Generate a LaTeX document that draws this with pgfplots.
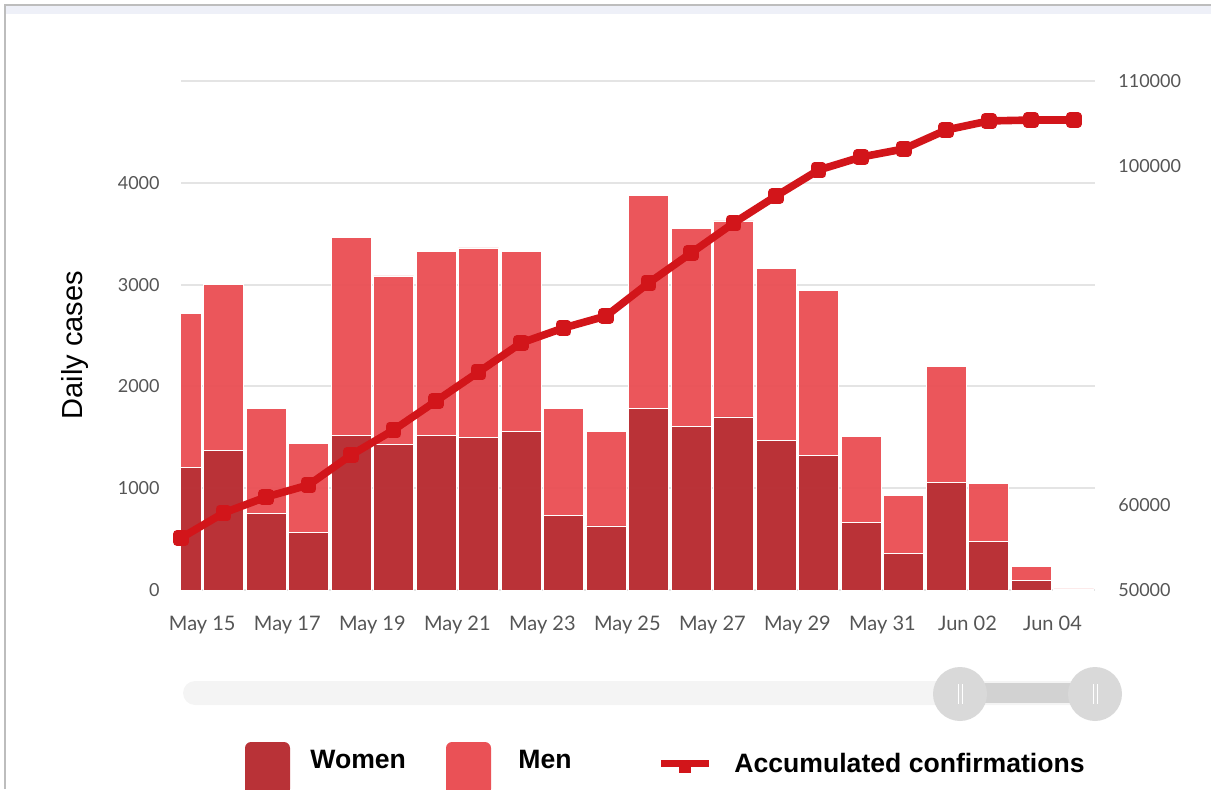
\documentclass[border=0pt]{standalone}
\usepackage{pgfplots}
\pgfplotsset{compat=1.18}
\usepackage{fontspec}
\setmainfont{Liberation Sans}
\newfontfamily\tickfont{Lato}
\definecolor{women}{HTML}{B93237}
\definecolor{men}{HTML}{EA5156}
\definecolor{acc}{HTML}{D2151A}
\definecolor{gridgray}{HTML}{E4E4E4}
\definecolor{ticktext}{HTML}{555555}
\definecolor{framegray}{HTML}{BDBDBD}
\definecolor{bandgray}{HTML}{EEF0F8}
\definecolor{trackgray}{HTML}{F4F4F4}
\definecolor{handlegray}{HTML}{D9D9D9}
\definecolor{selgray}{HTML}{D2D2D2}

\pgfplotstableread{
x total women
0 2720 1200
1 3000 1370
2 1785 750
3 1440 565
4 3460 1520
5 3085 1430
6 3330 1520
7 3360 1500
8 3330 1560
9 1785 730
10 1560 630
11 3880 1785
12 3550 1610
13 3625 1700
14 3155 1470
15 2940 1320
16 1510 665
17 925 360
18 2200 1055
19 1045 475
20 230 90
21 10 2
}\bars

\pgfplotstableread{
x acc
0 56130
1 59080
2 60960
3 62380
4 65910
5 68860
6 72280
7 75700
8 79120
9 80890
10 82300
11 86190
12 89730
13 93260
14 96450
15 99510
16 101040
17 101990
18 104230
19 105290
20 105400
21 105400
}\accum

\begin{document}
\begin{tikzpicture}
\path[use as bounding box] (0pt,0pt) rectangle (605.5pt,394.5pt);
% frame
\fill[bandgray] (2.5pt,387.5pt) rectangle (605.5pt,391.5pt);
\draw[framegray, line width=1pt] (2.5pt,0pt) -- (2.5pt,392pt) -- (605.5pt,392pt);

\begin{axis}[
  at={(90.5pt,99.5pt)}, anchor=south west,
  width=457pt, height=254.5pt, scale only axis,
  xmin=0, xmax=21.5, ymin=0, ymax=5000,
  axis line style={draw=none}, major tick length=0pt,
  xtick={0.5,2.5,4.5,6.5,8.5,10.5,12.5,14.5,16.5,18.5,20.5},
  xticklabels={May 15,May 17,May 19,May 21,May 23,May 25,May 27,May 29,May 31,Jun 02,Jun 04},
  ytick={0,1000,2000,3000,4000,5000},
  yticklabels={0,1000,2000,3000,4000,{}},
  ymajorgrids, grid style={draw=gridgray, line width=1pt},
  tick label style={font=\tickfont\fontsize{9}{10}\selectfont, text=ticktext},
  xticklabel style={anchor=north, inner sep=0pt, yshift=-13pt, font=\tickfont\fontsize{10}{11}\selectfont},
  yticklabel style={anchor=east, inner sep=0pt, xshift=-10.5pt},
  clip=true,
]
\addplot[ybar, bar width=0.94, bar shift=0pt, fill=men, draw=white, line width=0.35pt, fill opacity=0.97] table[x=x, y=total] {\bars};
\addplot[ybar, bar width=0.94, bar shift=0pt, fill=women, draw=white, line width=0.35pt, fill opacity=0.97] table[x=x, y=women] {\bars};
\end{axis}

\begin{axis}[
  at={(90.5pt,99.5pt)}, anchor=south west,
  width=457pt, height=254.5pt, scale only axis,
  xmin=0, xmax=21.5, ymin=50000, ymax=110000,
  axis y line*=right, hide x axis,
  axis line style={draw=none}, major tick length=0pt,
  scaled y ticks=false,
  ytick={50000,60000,100000,110000},
  yticklabels={50000,60000,100000,110000},
  tick label style={font=\tickfont\fontsize{9}{10}\selectfont, text=ticktext},
  yticklabel style={anchor=west, inner sep=0pt, xshift=11.5pt},
  clip=false,
]
\addplot[acc, line width=3.8pt, line join=round, mark=square*, mark size=2pt, mark options={draw=none, fill=acc}] table[x=x, y=acc] {\accum};
\end{axis}

% y label
\node[rotate=90, font=\fontsize{14.5}{16}\selectfont] at (37.5pt,222pt) {Daily cases};

% scrollbar
\fill[trackgray, rounded corners=6pt] (91.5pt,42pt) rectangle (555pt,54pt);
\fill[selgray] (480pt,43pt) rectangle (547.5pt,53pt);
\fill[handlegray] (480pt,47.5pt) circle (13.5pt);
\fill[handlegray] (547.5pt,47.5pt) circle (13.5pt);
\draw[white, line width=0.5pt] (479pt,42.5pt) -- (479pt,52.5pt) (481pt,42.5pt) -- (481pt,52.5pt);
\draw[white, line width=0.5pt] (546.5pt,42.5pt) -- (546.5pt,52.5pt) (548.5pt,42.5pt) -- (548.5pt,52.5pt);

% legend
\fill[women, rounded corners=3pt] (122.5pt,-3pt) rectangle (145pt,23.5pt);
\fill[men, rounded corners=3pt] (223pt,-3pt) rectangle (245.5pt,23.5pt);
\draw[acc, line width=3.5pt] (330.5pt,13pt) -- (354.5pt,13pt);
\fill[acc] (339.5pt,8pt) rectangle (345.5pt,13pt);
\node[anchor=west, inner sep=0pt, font=\bfseries\fontsize{13.3}{15}\selectfont] at (155pt,15pt) {Women};
\node[anchor=west, inner sep=0pt, font=\bfseries\fontsize{13.3}{15}\selectfont] at (259pt,15pt) {Men};
\node[anchor=west, inner sep=0pt, font=\bfseries\fontsize{13.3}{15}\selectfont] at (367pt,13pt) {Accumulated confirmations};
\end{tikzpicture}
\end{document}
